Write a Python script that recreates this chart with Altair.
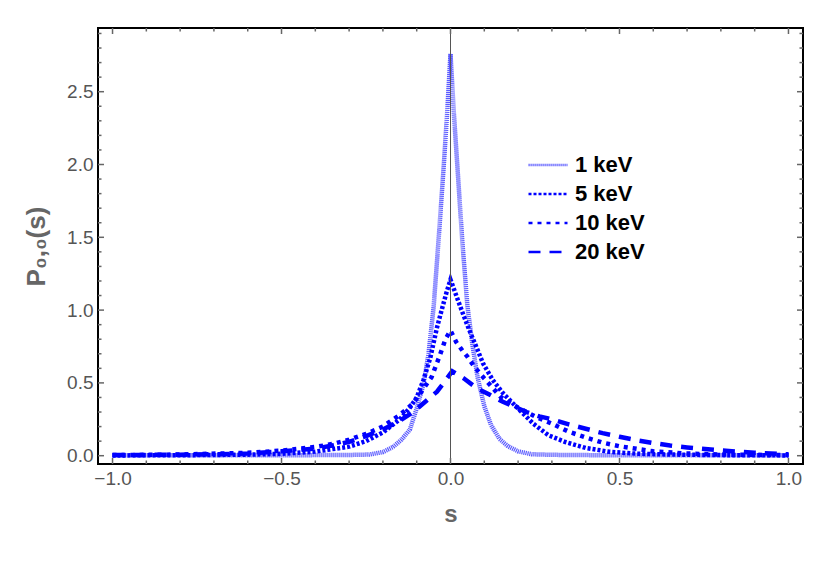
import altair as alt
import pandas as pd

# ---- data ----
series = ["1 keV", "5 keV", "10 keV", "20 keV"]

s_1 = [-1.0, -0.6, -0.4, -0.3, -0.24, -0.2, -0.17, -0.145, -0.12, -0.1, -0.08, -0.065, -0.05,
       -0.035, -0.02, -0.01, 0.0, 0.01, 0.02, 0.035, 0.05, 0.065, 0.08, 0.1, 0.12, 0.145,
       0.17, 0.2, 0.24, 0.3, 0.4, 0.6, 1.0]
p_1 = [0.003, 0.003, 0.004, 0.005, 0.008, 0.025, 0.06, 0.11, 0.18, 0.325, 0.49, 0.70, 1.02,
       1.49, 1.99, 2.35, 2.76, 2.35, 2.0, 1.47, 1.03, 0.76, 0.54, 0.34, 0.21, 0.115,
       0.065, 0.03, 0.01, 0.006, 0.004, 0.003, 0.003]

s_5 = [-1.0, -0.8, -0.6, -0.5, -0.4, -0.3, -0.25, -0.2, -0.15, -0.12, -0.1, -0.08, -0.06,
       -0.04, -0.025, -0.012, 0.0, 0.017, 0.036, 0.056, 0.076, 0.096, 0.125, 0.155, 0.195,
       0.245, 0.29, 0.34, 0.4, 0.47, 0.55, 0.65, 0.8, 1.0]
p_5 = [0.002, 0.003, 0.007, 0.013, 0.028, 0.062, 0.10, 0.16, 0.25, 0.33, 0.40, 0.52, 0.67,
       0.88, 1.01, 1.12, 1.21, 1.10, 0.98, 0.86, 0.75, 0.635, 0.52, 0.43, 0.335,
       0.22, 0.14, 0.094, 0.053, 0.027, 0.014, 0.008, 0.004, 0.002]

s_10 = [-1.0, -0.8, -0.6, -0.5, -0.4, -0.35, -0.3, -0.25, -0.2, -0.15, -0.11, -0.083, -0.056,
        -0.033, -0.015, 0.0, 0.017, 0.036, 0.05, 0.071, 0.1, 0.15, 0.2, 0.25, 0.3, 0.35,
        0.4, 0.45, 0.5, 0.6, 0.7, 0.8, 1.0]
p_10 = [0.004, 0.008, 0.02, 0.035, 0.06, 0.08, 0.11, 0.15, 0.20, 0.28, 0.36, 0.45, 0.54,
        0.68, 0.80, 0.86, 0.78, 0.72, 0.68, 0.61, 0.53, 0.40, 0.33, 0.27, 0.22, 0.165,
        0.125, 0.09, 0.065, 0.03, 0.015, 0.008, 0.004]

s_20 = [-1.0, -0.8, -0.7, -0.6, -0.5, -0.4, -0.35, -0.3, -0.25, -0.2, -0.15, -0.11, -0.08,
        -0.06, -0.04, -0.02, 0.005, 0.04, 0.08, 0.115, 0.155, 0.19, 0.225, 0.263, 0.3,
        0.35, 0.4, 0.45, 0.5, 0.55, 0.6, 0.65, 0.7, 0.8, 0.9, 1.0]
p_20 = [0.004, 0.007, 0.01, 0.015, 0.03, 0.048, 0.07, 0.095, 0.135, 0.18, 0.24, 0.30, 0.36,
        0.40, 0.44, 0.50, 0.58, 0.53, 0.46, 0.42, 0.37, 0.335, 0.30, 0.27, 0.25,
        0.215, 0.185, 0.155, 0.13, 0.107, 0.087, 0.07, 0.057, 0.036, 0.02, 0.01]

x_labels = [-1.0, -0.5, 0.0, 0.5, 1.0]
y_labels = [0.0, 0.5, 1.0, 1.5, 2.0, 2.5]
x_minor = [-0.9, -0.8, -0.7, -0.6, -0.4, -0.3, -0.2, -0.1, 0.1, 0.2, 0.3, 0.4, 0.6, 0.7, 0.8, 0.9]
y_minor = [0.1, 0.2, 0.3, 0.4, 0.6, 0.7, 0.8, 0.9, 1.1, 1.2, 1.3, 1.4, 1.6, 1.7, 1.8, 1.9,
           2.1, 2.2, 2.3, 2.4, 2.6, 2.7, 2.8, 2.9]

rows = []
for name, ss, pp in zip(series, [s_1, s_5, s_10, s_20], [p_1, p_5, p_10, p_20]):
    for a, b in zip(ss, pp):
        rows.append({"s": a, "p": b, "series": name})
df = pd.DataFrame(rows)

W, H = 705, 436
xscale = alt.Scale(domain=[-1.043, 1.043], nice=False, zero=False)
yscale = alt.Scale(domain=[-0.057, 2.9375], nice=False, zero=False)

x_axis = alt.Axis(values=x_labels, format=".1f", ticks=False, domain=False, grid=False,
                  labelFontSize=19, labelColor="#555555", labelPadding=5,
                  title="s", titleFontSize=24, titleFontWeight="bold",
                  titleColor="#666666", titlePadding=14)
y_axis = alt.Axis(values=y_labels, format=".1f", ticks=False, domain=False, grid=False,
                  labelFontSize=19, labelColor="#555555", labelPadding=5,
                  title="P₀,₀(s)", titleFontSize=26, titleFontWeight="bold",
                  titleColor="#666666", titlePadding=17)

lines = alt.Chart(df).mark_line(strokeWidth=4.5, clip=True).encode(
    x=alt.X("s:Q", scale=xscale, axis=x_axis),
    y=alt.Y("p:Q", scale=yscale, axis=y_axis),
    color=alt.Color("series:N",
                    scale=alt.Scale(domain=series, range=["#5a5aff", "#0000ff", "#0000ff", "#0000ff"]),
                    legend=alt.Legend(title=None, orient="none", legendX=429, legendY=122.5,
                                      symbolType="stroke", symbolSize=1521, symbolStrokeWidth=2.5,
                                      labelFontSize=22, labelFontWeight="bold", labelColor="black",
                                      labelFont="Liberation Sans", labelOffset=6, rowPadding=0,
                                      clipHeight=29)),
    strokeDash=alt.StrokeDash("series:N",
                              scale=alt.Scale(domain=series,
                                              range=[[1.2, 0.8], [3, 2], [4, 5], [12, 9]])),
    order=alt.Order("s:Q"),
)

zero = alt.Chart(pd.DataFrame({"z": [0.0]})).mark_rule(color="#555555", strokeWidth=1).encode(
    x=alt.X("z:Q", scale=xscale, axis=x_axis)
)

layers = [lines, zero]
tick_color = "#666666"
for vals, ln in [(x_labels, 6), (x_minor, 3.5)]:
    d = pd.DataFrame({"t": vals})
    layers.append(alt.Chart(d).mark_rule(color=tick_color, strokeWidth=1.5).encode(
        x=alt.X("t:Q", scale=xscale, axis=x_axis), y=alt.value(H), y2=alt.value(H - ln)))
    layers.append(alt.Chart(d).mark_rule(color=tick_color, strokeWidth=1.5).encode(
        x=alt.X("t:Q", scale=xscale, axis=x_axis), y=alt.value(0), y2=alt.value(ln)))
for vals, ln in [(y_labels, 6), (y_minor, 3.5)]:
    d = pd.DataFrame({"t": vals})
    layers.append(alt.Chart(d).mark_rule(color=tick_color, strokeWidth=1.5).encode(
        y=alt.Y("t:Q", scale=yscale, axis=y_axis), x=alt.value(0), x2=alt.value(ln)))
    layers.append(alt.Chart(d).mark_rule(color=tick_color, strokeWidth=1.5).encode(
        y=alt.Y("t:Q", scale=yscale, axis=y_axis), x=alt.value(W), x2=alt.value(W - ln)))

chart = alt.layer(*layers).properties(
    width=W, height=H,
    autosize=alt.AutoSizeParams(type="none"),
    padding={"left": 90, "top": 20, "right": 20, "bottom": 90},
).configure_view(stroke="black", strokeWidth=2).configure_axis(
    labelFont="Liberation Sans", titleFont="Liberation Sans"
)

chart.save("out.html", embed_options={"renderer": "svg", "actions": False})
